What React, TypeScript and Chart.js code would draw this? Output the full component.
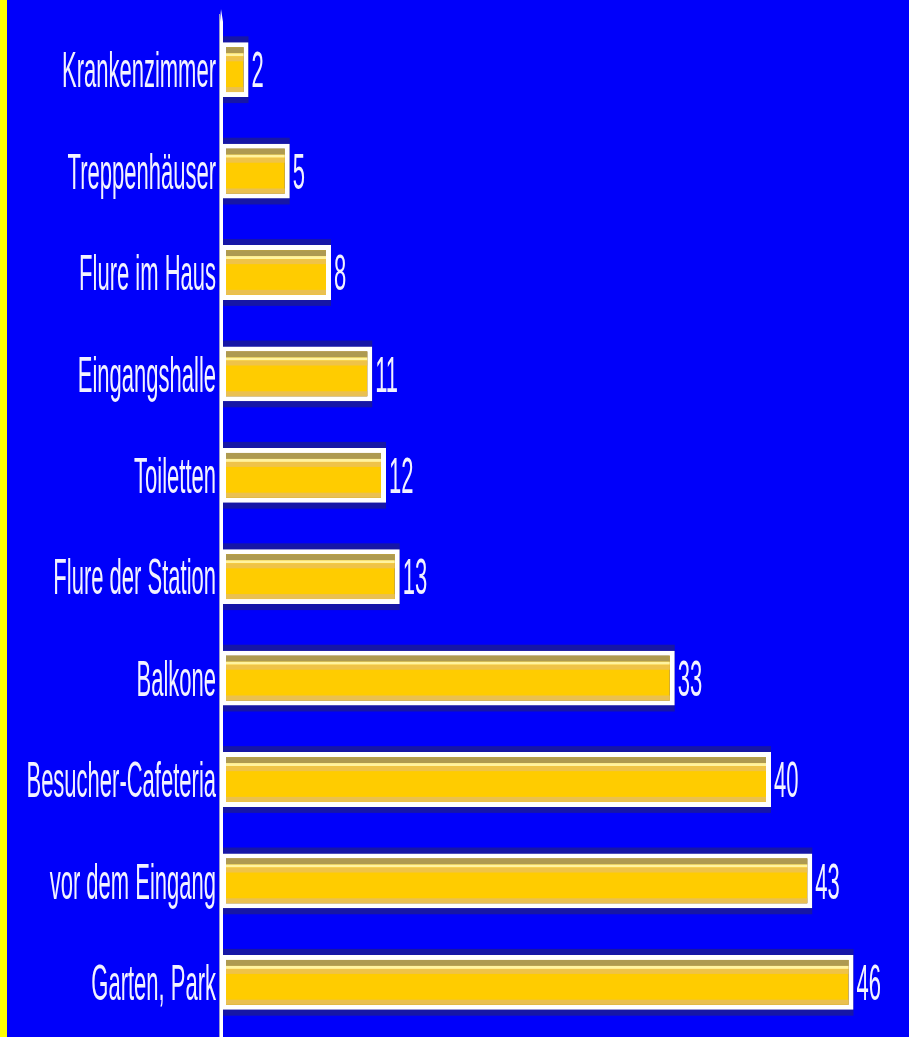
import React, { useEffect, useRef } from "react";
import { Chart, registerables } from "chart.js";

Chart.register(...registerables);

const categories = [
  "Krankenzimmer",
  "Treppenhäuser",
  "Flure im Haus",
  "Eingangshalle",
  "Toiletten",
  "Flure der Station",
  "Balkone",
  "Besucher-Cafeteria",
  "vor dem Eingang",
  "Garten, Park",
];
const values = [2, 5, 8, 11, 12, 13, 33, 40, 43, 46];
const xMax = 48;

const FONT = '22px "Liberation Sans", Arial, sans-serif';
const STRETCH = 2.25;
const CAP = 0.716 * 22 * STRETCH;

const decorPlugin = {
  id: "decor",
  beforeDraw(chart: any) {
    const { ctx, width, height } = chart;
    ctx.save();
    ctx.fillStyle = "#0000FA";
    ctx.fillRect(0, 0, width, height);
    ctx.fillStyle = "#FFFF00";
    ctx.fillRect(0, 0, 7, height);
    ctx.restore();
  },
  beforeDatasetsDraw(chart: any) {
    const { ctx } = chart;
    const meta = chart.getDatasetMeta(0);
    ctx.save();
    meta.data.forEach((el: any) => {
      const p = el.getProps(["x", "y", "base", "height"], true);
      const top = p.y - p.height / 2;
      ctx.fillStyle = "#1616A6";
      ctx.fillRect(p.base, top - 6, p.x - p.base, p.height + 12);
    });
    ctx.restore();
  },
  afterDatasetsDraw(chart: any) {
    const { ctx } = chart;
    const meta = chart.getDatasetMeta(0);
    const yScale = chart.scales.y;
    const xScale = chart.scales.x;
    ctx.save();
    meta.data.forEach((el: any, i: number) => {
      const p = el.getProps(["x", "y", "base", "height"], true);
      const top = p.y - p.height / 2;
      const bottom = p.y + p.height / 2;
      const l = p.base + 5;
      const w = p.x - 5 - l;
      if (w > 0) {
        ctx.fillStyle = "#AE9A50";
        ctx.fillRect(l, top + 5, w, 6);
        ctx.fillStyle = "#FFF3A0";
        ctx.fillRect(l, top + 11, w, 3);
        ctx.fillStyle = "#EFC348";
        ctx.fillRect(l, top + 14, w, 5);
        ctx.fillStyle = "#EAC050";
        ctx.fillRect(l, bottom - 10, w, 5);
      }
      // value label
      ctx.fillStyle = "#F2F2FF";
      ctx.font = FONT;
      ctx.textAlign = "left";
      ctx.textBaseline = "alphabetic";
      ctx.save();
      ctx.translate(p.x + 3, p.y + CAP / 2);
      ctx.scale(1, STRETCH);
      ctx.fillText(String(values[i]), 0, 0);
      ctx.restore();
    });
    // category labels
    categories.forEach((c, i) => {
      const y = yScale.getPixelForValue(i);
      ctx.fillStyle = "#F2F2FF";
      ctx.font = FONT;
      ctx.textAlign = "right";
      ctx.textBaseline = "alphabetic";
      ctx.save();
      ctx.translate(216, y + CAP / 2);
      ctx.scale(1, STRETCH);
      ctx.fillText(c, 0, 0);
      ctx.restore();
    });
    // axis line
    const ax = xScale.getPixelForValue(0);
    ctx.fillStyle = "#9A9ACF";
    ctx.fillRect(ax - 2, 14, 1, chart.height - 14);
    ctx.fillStyle = "#FFFFFF";
    ctx.beginPath();
    ctx.moveTo(ax - 1, chart.height);
    ctx.lineTo(ax - 1, 22);
    ctx.lineTo(ax, 9);
    ctx.lineTo(ax + 2, 22);
    ctx.lineTo(ax + 2, chart.height);
    ctx.closePath();
    ctx.fill();
    ctx.restore();
  },
};

export default function App() {
  const ref = useRef<HTMLCanvasElement | null>(null);
  useEffect(() => {
    document.body.style.margin = "0";
    document.body.style.overflow = "hidden";
    const chart = new Chart(ref.current as HTMLCanvasElement, {
      type: "bar",
      data: {
        labels: categories,
        datasets: [
          {
            data: values,
            backgroundColor: "#FFCC00",
            borderColor: "#FFFFFF",
            borderWidth: 5,
            borderSkipped: false,
            barPercentage: 0.54,
            categoryPercentage: 1,
          },
        ],
      },
      options: {
        indexAxis: "y",
        animation: false,
        responsive: false,
        layout: { padding: { left: 221, right: 28, top: 19, bottom: 4 } },
        plugins: { legend: { display: false }, tooltip: { enabled: false } },
        scales: {
          x: { display: false, min: 0, max: xMax },
          y: { display: false },
        },
      },
      plugins: [decorPlugin],
    } as any);
    return () => chart.destroy();
  }, []);
  return (
    <div style={{ width: 909, height: 1037 }}>
      <canvas ref={ref} width={909} height={1037} style={{ display: "block" }} />
    </div>
  );
}
